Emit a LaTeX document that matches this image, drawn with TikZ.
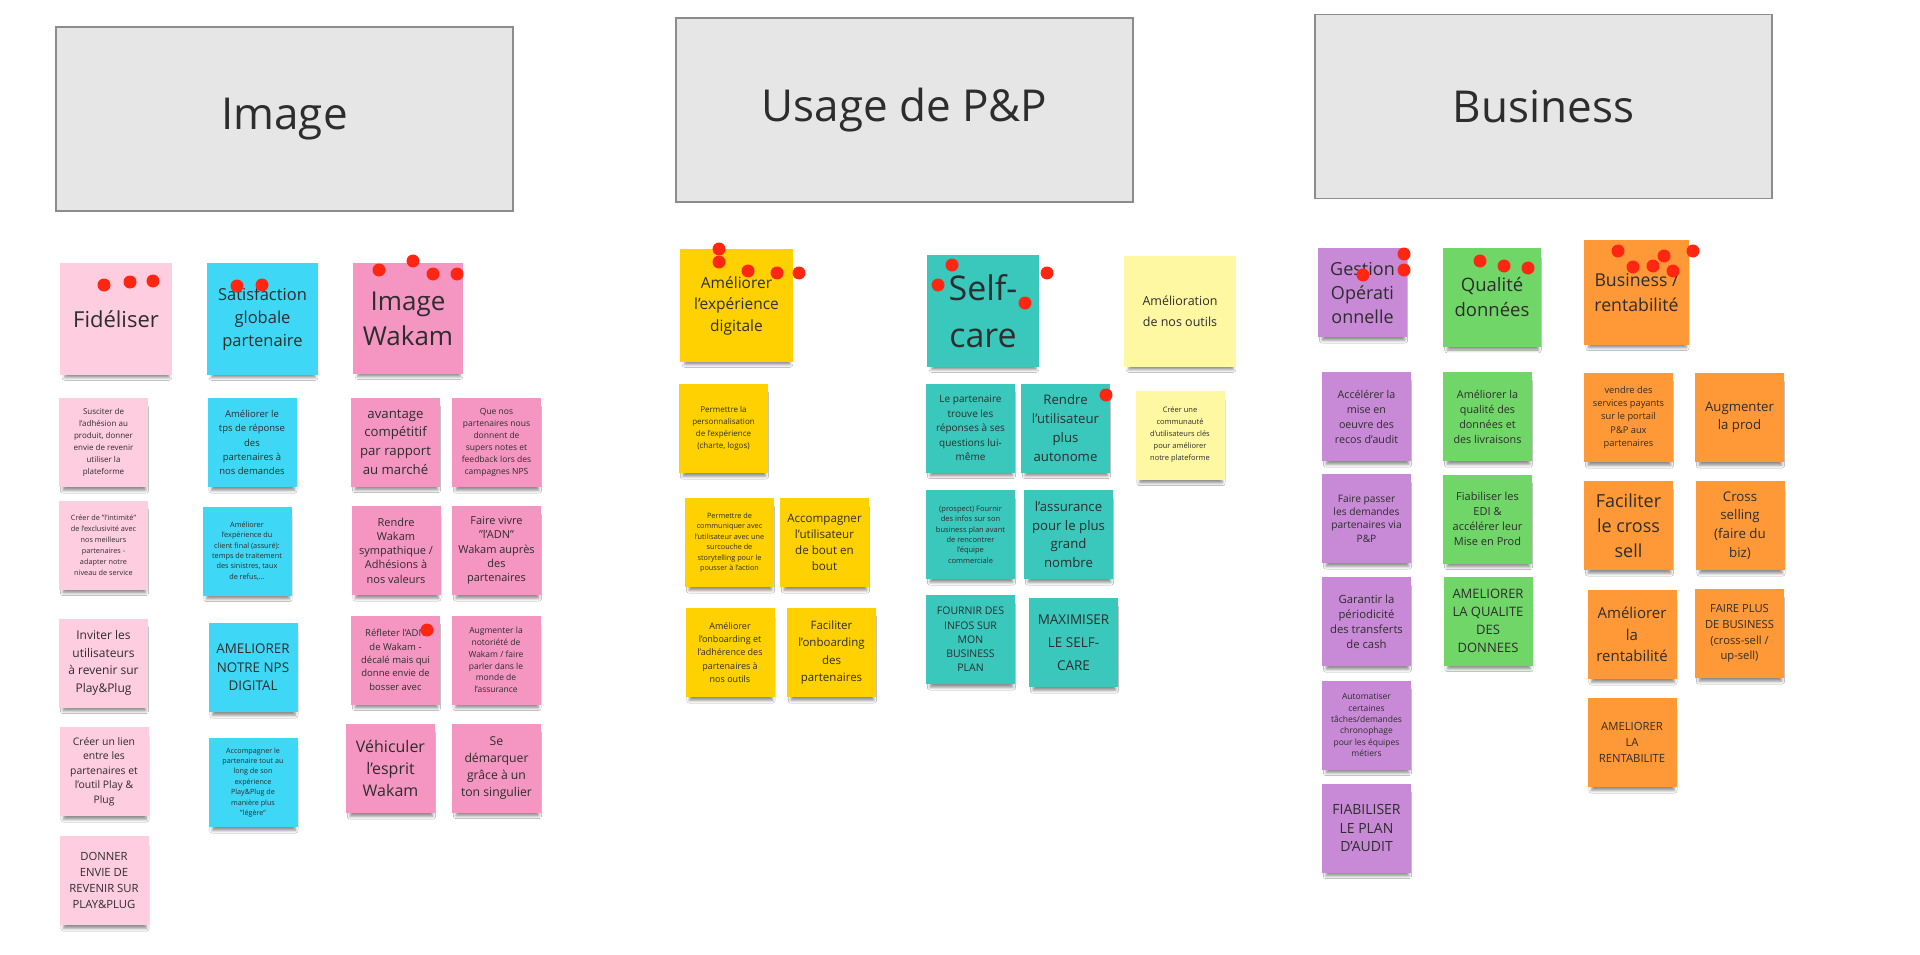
\documentclass[tikz,border=0pt]{standalone}
\usepackage{fontspec}
\setmainfont{Open Sans}
\usetikzlibrary{shadows.blur}
\definecolor{hfill}{RGB}{230,230,230}
\definecolor{hline}{RGB}{140,140,140}
\definecolor{ink}{RGB}{45,45,45}
\definecolor{rosepale}{RGB}{255,205,224}
\definecolor{cyanvif}{RGB}{62,216,246}
\definecolor{rosevif}{RGB}{245,150,194}
\definecolor{jaunevif}{RGB}{255,209,0}
\definecolor{turquoise}{RGB}{58,200,189}
\definecolor{jaunepale}{RGB}{255,248,162}
\definecolor{violet}{RGB}{200,138,214}
\definecolor{vertvif}{RGB}{112,214,104}
\definecolor{orangevif}{RGB}{255,153,56}
\definecolor{pastille}{RGB}{255,38,18}
\begin{document}
\begin{tikzpicture}[x=1pt, y=-1pt]
\tikzset{hbox/.style={draw=hline, fill=hfill, line width=1.2pt, minimum width=457pt, minimum height=184pt, text=ink, font=\fontsize{44}{52}\selectfont},
sticky/.style={fill=#1, text=ink, align=center, inner sep=1pt, minimum width=89pt, minimum height=89pt,
  blur shadow={shadow xshift=1pt, shadow yshift=-7pt, shadow scale=0.93, shadow blur radius=3pt, shadow opacity=45}},
fs/.style 2 args={font=\fontsize{#1}{#2}\selectfont},
pin/.style={fill=pastille}}
\useasboundingbox (0,0) rectangle (1920,955);
\fill[white] (0,0) rectangle (1920,955);

%% headers
\node [hbox] (himage) at (284.5,119) {Image};
\node [hbox] (husage) at (904.5,110) {Usage de P\&P};
\node [hbox] (hbusiness) at (1543.5,106.5) {Business};

%% image column
\node [sticky=rosepale, minimum width=112pt, minimum height=112pt, fs={22}{30}] (fidel) at (116,319) {Fidéliser};
\node [sticky=cyanvif, minimum width=111pt, minimum height=112pt, fs={16.5}{23}] (satisf) at (262.5,319) {Satisfaction\\globale\\partenaire};
\node [sticky=rosevif, minimum width=110pt, minimum height=111pt, fs={26}{35}] (imgwakam) at (408,318.5) {Image\\Wakam};
% fideliser notes
\node [sticky=rosepale, fs={8}{12}] (susciter) at (103.5,442.5) {Susciter de\\l'adhésion au\\produit, donner\\envie de revenir\\utiliser la\\plateforme};
\node [sticky=rosepale, fs={7.3}{11}] (intimite) at (103.5,545) {Créer de "l'intimité"\\de l'exclusivité avec\\nos meilleurs\\partenaires -\\adapter notre\\niveau de service};
\node [sticky=rosepale, fs={12}{17.5}] (inviter) at (103.5,663) {Inviter les\\utilisateurs\\à revenir sur\\Play\&Plug};
\node [sticky=rosepale, fs={10.4}{14.4}] (lien) at (104,771.5) {Créer un lien\\entre les\\partenaires et\\l'outil Play \&\\Plug};
\node [sticky=rosepale, fs={11.3}{16}] (donner) at (104,880.5) {DONNER\\ENVIE DE\\REVENIR SUR\\PLAY\&PLUG};
% satisfaction notes
\node [sticky=cyanvif, fs={9.5}{14.3}] (tps) at (252,442.5) {Améliorer le\\tps de réponse\\des\\partenaires à\\nos demandes};
\node [sticky=cyanvif, fs={7.3}{10.4}] (clientfinal) at (247,551) {Améliorer\\l'expérience du\\client final (assuré):\\temps de traitement\\des sinistres, taux\\de refus,...};
\node [sticky=cyanvif, fs={13.4}{18.7}] (nps) at (253,667.5) {AMELIORER\\NOTRE NPS\\DIGITAL};
\node [sticky=cyanvif, fs={7.2}{10.4}] (accompart) at (253,782.5) {Accompagner le\\partenaire tout au\\long de son\\expérience\\Play\&Plug de\\manière plus\\"légère"};
% image wakam notes
\node [sticky=rosevif, fs={13.2}{18.7}] (avantage) at (395.5,442) {avantage\\compétitif\\par rapport\\au marché};
\node [sticky=rosevif, fs={8.5}{12}] (notesnps) at (496.5,442.5) {Que nos\\partenaires nous\\donnent de\\supers notes et\\feedback lors des\\campagnes NPS};
\node [sticky=rosevif, fs={11}{14.3}] (sympa) at (396,550.5) {Rendre\\Wakam\\sympathique /\\Adhésions à\\nos valeurs};
\node [sticky=rosevif, fs={11}{14.3}] (adn) at (496.5,550.5) {Faire vivre\\"l'ADN"\\Wakam auprès\\des\\partenaires};
\node [sticky=rosevif, fs={9.5}{13.3}] (refleter) at (395.5,660) {Réfleter l'ADN\\de Wakam -\\décalé mais qui\\donne envie de\\bosser avec};
\node [sticky=rosevif, fs={8.5}{11.8}] (notoriete) at (496,660) {Augmenter la\\notoriété de\\Wakam / faire\\parler dans le\\monde de\\l'assurance};
\node [sticky=rosevif, fs={16}{22}] (vehiculer) at (390.5,768.5) {Véhiculer\\l'esprit\\Wakam};
\node [sticky=rosevif, fs={12.2}{17.2}] (demarquer) at (496.5,768) {Se\\démarquer\\grâce à un\\ton singulier};

%% usage column
\node [sticky=jaunevif, minimum width=113pt, minimum height=113pt, fs={15.5}{21.5}] (expdig) at (736.5,305.5) {Améliorer\\l'expérience\\digitale};
\node [sticky=turquoise, minimum width=112pt, minimum height=112pt, fs={34}{47}] (selfcare) at (983,311) {Self-\\care};
\node [sticky=jaunepale, minimum width=112pt, minimum height=111pt, fs={12.5}{21}] (outils) at (1180,311.5) {Amélioration\\de nos outils};
% experience notes
\node [sticky=jaunevif, fs={8}{12}] (perso) at (723.5,428.5) {Permettre la\\personnalisation\\de l'expérience\\(charte, logos)};
\node [sticky=jaunevif, fs={7.3}{10.4}] (commun) at (729.5,542.5) {Permettre de\\communiquer avec\\l'utilisateur avec une\\surcouche de\\storytelling pour le\\pousser à l'action};
\node [sticky=jaunevif, fs={11.6}{16}] (accutil) at (824.5,542.5) {Accompagner\\l'utilisateur\\de bout en\\bout};
\node [sticky=jaunevif, fs={9}{13.3}] (onboard) at (730,652.5) {Améliorer\\l'onboarding et\\l'adhérence des\\partenaires à\\nos outils};
\node [sticky=jaunevif, fs={11.5}{17.5}] (facilonb) at (831.5,652.5) {Faciliter\\l'onboarding\\des\\partenaires};
% self-care notes
\node [sticky=turquoise, fs={10}{14.4}] (trouve) at (970.5,428) {Le partenaire\\trouve les\\réponses à ses\\questions lui-\\même};
\node [sticky=turquoise, fs={13.2}{18.7}] (autonome) at (1065.5,428) {Rendre\\l'utilisateur\\plus\\autonome};
\node [sticky=turquoise, fs={7.5}{10.4}] (prospect) at (970.5,534.5) {(prospect) Fournir\\des infos sur son\\business plan avant\\de rencontrer\\l'équipe\\commerciale};
\node [sticky=turquoise, fs={13.2}{18.7}] (assurance) at (1068.5,534.5) {l'assurance\\pour le plus\\grand\\nombre};
\node [sticky=turquoise, fs={10.5}{14.2}] (fournir) at (970.5,639.5) {FOURNIR DES\\INFOS SUR\\MON\\BUSINESS\\PLAN};
\node [sticky=turquoise, fs={13.5}{23}] (maxself) at (1073.5,642.5) {MAXIMISER\\LE SELF-\\CARE};
% outils notes
\node [sticky=jaunepale, fs={7.5}{12}] (communaute) at (1180,435) {Créer une\\communauté\\d'utilisateurs clés\\pour améliorer\\notre plateforme};

%% business column
\node [sticky=violet, fs={18}{24}] (gestion) at (1362.5,292.5) {Gestion\\Opérati\\onnelle};
\node [sticky=vertvif, minimum width=98pt, minimum height=99pt, fs={18.5}{25}] (qualite) at (1492,297.5) {Qualité\\données};
\node [sticky=orangevif, minimum width=105pt, minimum height=105pt, fs={17.7}{25}] (busrent) at (1636.5,292.5) {Business /\\rentabilité};
% gestion notes
\node [sticky=violet, fs={10.7}{15}] (accel) at (1366.5,416.5) {Accélérer la\\mise en\\oeuvre des\\recos d'audit};
\node [sticky=violet, fs={10.2}{13.3}] (passer) at (1366.5,518.5) {Faire passer\\les demandes\\partenaires via\\P\&P};
\node [sticky=violet, fs={11.3}{15}] (garantir) at (1366.5,621.5) {Garantir la\\périodicité\\des transferts\\de cash};
\node [sticky=violet, fs={8.5}{11.3}] (automat) at (1366.5,725) {Automatiser\\certaines\\tâches/demandes\\chronophage\\pour les équipes\\métiers};
\node [sticky=violet, fs={14}{18.7}] (fiabplan) at (1366.5,828) {FIABILISER\\LE PLAN\\D'AUDIT};
% qualite notes
\node [sticky=vertvif, fs={10.8}{15}] (ameqd) at (1487.5,416.5) {Améliorer la\\qualité des\\données et\\des livraisons};
\node [sticky=vertvif, fs={11}{15}] (edi) at (1487.5,519) {Fiabiliser les\\EDI \&\\accélérer leur\\Mise en Prod};
\node [sticky=vertvif, fs={13}{17.8}] (qualcaps) at (1488,621) {AMELIORER\\LA QUALITE\\DES\\DONNEES};
% business notes
\node [sticky=orangevif, fs={9.3}{13.3}] (vendre) at (1628.5,417.5) {vendre des\\services payants\\sur le portail\\P\&P aux\\partenaires};
\node [sticky=orangevif, fs={13.2}{18.3}] (augprod) at (1739.5,417.5) {Augmenter\\la prod};
\node [sticky=orangevif, fs={18}{25}] (crosssell) at (1628.5,525.5) {Faciliter\\le cross\\sell};
\node [sticky=orangevif, fs={13.3}{18.7}] (crossbiz) at (1740,525.5) {Cross\\selling\\(faire du\\biz)};
\node [sticky=orangevif, fs={15}{21.3}] (amrent) at (1632,634.5) {Améliorer\\la\\rentabilité};
\node [sticky=orangevif, fs={11.2}{15.8}] (faireplus) at (1739.5,633.5) {FAIRE PLUS\\DE BUSINESS\\(cross-sell /\\up-sell)};
\node [sticky=orangevif, fs={11.3}{16}] (amrentcaps) at (1632,742.5) {AMELIORER\\LA\\RENTABILITE};

%% vote dots
\foreach \px/\py in {104/285, 130/282, 153/281, 237/286, 262/285, 379/270, 413/261, 433/274, 457/274, 427/630,
  719/249, 719/262, 748/271, 777/273, 799/273, 952/265, 938/285, 1025/303, 1047/273, 1106/395,
  1404/254, 1404/270, 1363/275, 1480/261, 1504/266, 1528/268,
  1618/251, 1633/267, 1653/266, 1664/256, 1673/271, 1693/251}
  \fill [pin] (\px,\py) circle (6.5pt);
\end{tikzpicture}
\end{document}
